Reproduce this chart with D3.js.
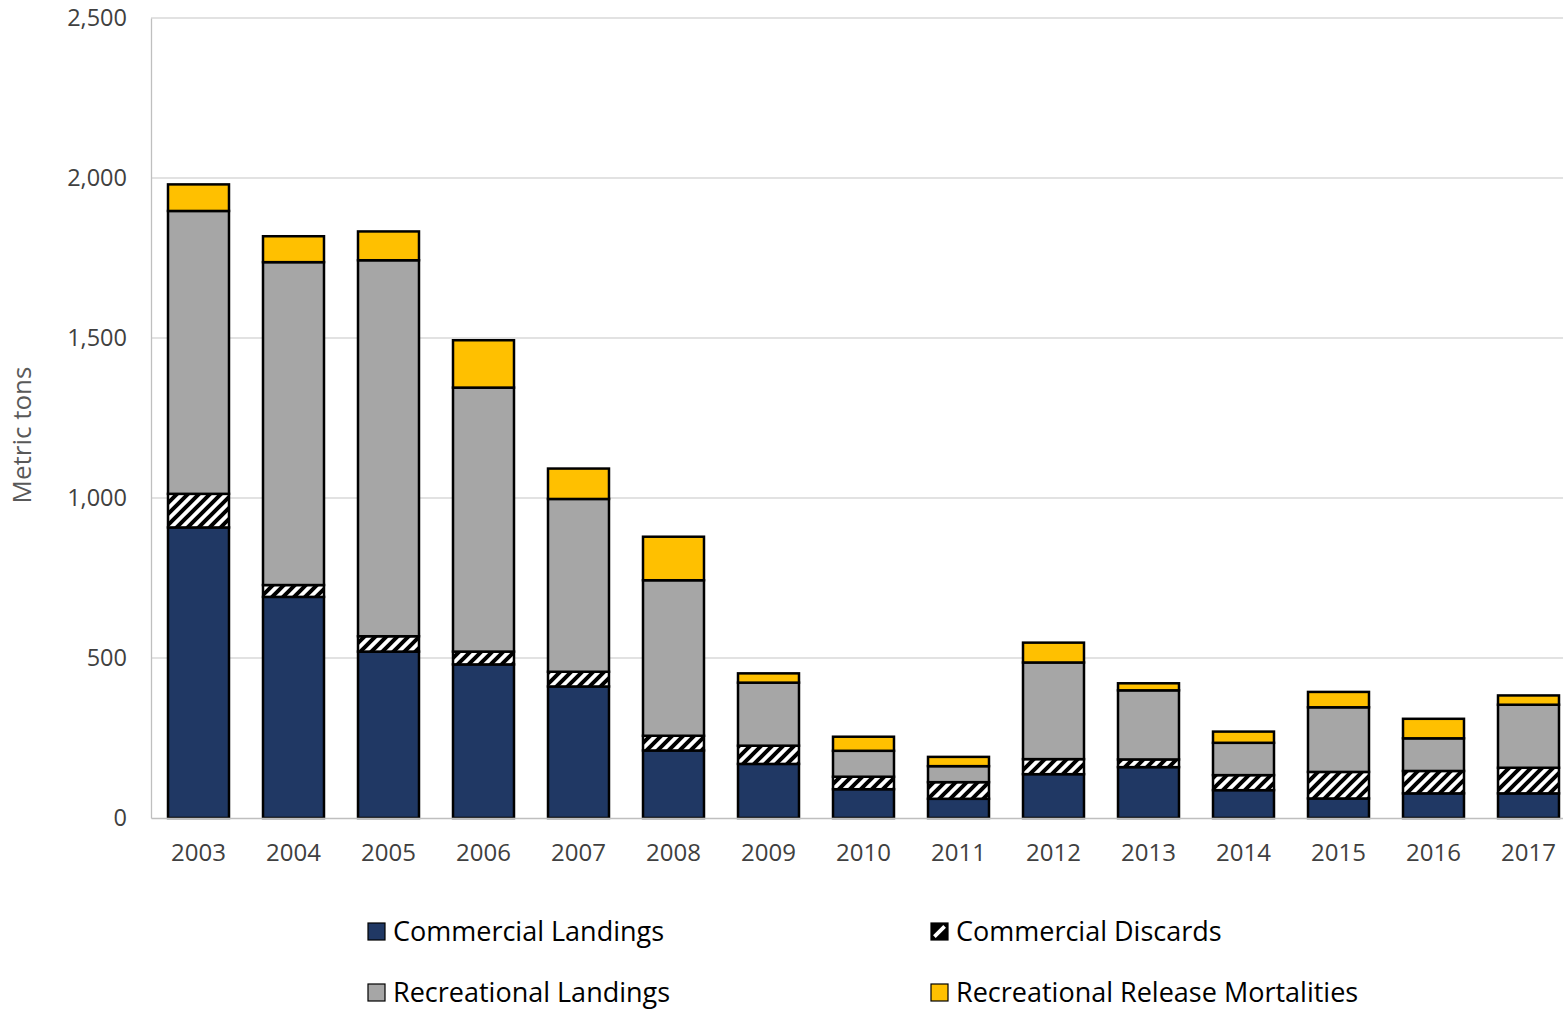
<!DOCTYPE html>
<html><head><meta charset="utf-8">
<script src="https://cdn.jsdelivr.net/npm/d3@7"></script>
<style>html,body{margin:0;padding:0;background:#fff;} svg{display:block;}</style>
</head><body>
<svg id="chart" width="1563" height="1010"></svg>
<script>
const years = ["2003","2004","2005","2006","2007","2008","2009","2010","2011","2012","2013","2014","2015","2016","2017"];
const commercialLandings = [908,691,520,480,411,211,169,90,60,137,159,87,61,77,77];
const commercialDiscards = [105,37,48,40,46,46,57,39,52,47,24,47,83,70,80];
const recreationalLandings = [884,1009,1175,825,540,486,197,81,50,302,216,101,202,102,197];
const recreationalReleaseMortalities = [83,81,90,148,95,136,29,44,29,62,22,35,48,61,29];
const yTicks = [0,500,1000,1500,2000,2500];
const seriesNames = ["Commercial Landings","Commercial Discards","Recreational Landings","Recreational Release Mortalities"];

const svg = d3.select("#chart");
const FONT = "'Open Sans', 'Liberation Sans', sans-serif";
const plot = {left:151, right:1576, top:18, bottom:818};

const defs = svg.append("defs");
const hatch = defs.append("pattern").attr("id","hatch").attr("patternUnits","userSpaceOnUse")
  .attr("width",11).attr("height",11);
hatch.append("rect").attr("width",11).attr("height",11).attr("fill","#fff");
hatch.append("path").attr("d","M-2.75,2.75 L2.75,-2.75 M0,11 L11,0 M8.25,13.75 L13.75,8.25")
  .attr("stroke","#000").attr("stroke-width",4);
const lh = defs.append("pattern").attr("id","legendHatch").attr("patternUnits","objectBoundingBox")
  .attr("width",1).attr("height",1).attr("patternContentUnits","objectBoundingBox");
lh.append("rect").attr("width",1).attr("height",1).attr("fill","#000");
lh.append("path").attr("d","M0.2,0.8 L0.8,0.2").attr("stroke","#fff").attr("stroke-width",0.22);

const colors = ["#203864","url(#hatch)","#A6A6A6","#FFC000"];
const legendFills = ["#203864","url(#legendHatch)","#A6A6A6","#FFC000"];

const x = d3.scaleBand().domain(years).range([plot.left, plot.right]).paddingInner(0.358).paddingOuter(0.179);
const y = d3.scaleLinear().domain([0,2500]).range([plot.bottom, plot.top]);

// gridlines
svg.append("g").selectAll("line").data(yTicks.filter(d=>d>0)).join("line")
  .attr("x1",plot.left).attr("x2",1563).attr("y1",d=>y(d)).attr("y2",d=>y(d))
  .attr("stroke","#D9D9D9").attr("stroke-width",1.3);

// y axis
const yAxis = svg.append("g").attr("transform",`translate(${plot.left},0)`)
  .call(d3.axisLeft(y).tickValues(yTicks).tickSize(0).tickPadding(24).tickFormat(d3.format(",")));
yAxis.select(".domain").attr("stroke","#BFBFBF").attr("stroke-width",1.3);
yAxis.selectAll("text").attr("font-family",FONT).attr("font-size",23.5).attr("fill","#404040");

// stacked data
const table = years.map((yr,i)=>({year:yr, s0:commercialLandings[i], s1:commercialDiscards[i], s2:recreationalLandings[i], s3:recreationalReleaseMortalities[i]}));
const stack = d3.stack().keys(["s0","s1","s2","s3"])(table);

svg.append("g").selectAll("g").data(stack).join("g")
  .attr("fill",(d,i)=>colors[i])
  .selectAll("rect").data(d=>d).join("rect")
  .attr("x",d=>x(d.data.year)).attr("width",x.bandwidth())
  .attr("y",d=>y(d[1])).attr("height",d=>y(d[0])-y(d[1]))
  .attr("stroke","#000").attr("stroke-width",2.5);

// x axis
const xAxis = svg.append("g").attr("transform",`translate(0,${plot.bottom})`)
  .call(d3.axisBottom(x).tickSize(0).tickPadding(26));
xAxis.select(".domain").attr("stroke","#BFBFBF").attr("stroke-width",1.3);
xAxis.selectAll("text").attr("font-family",FONT).attr("font-size",24).attr("fill","#404040");

// y title
svg.append("text").attr("transform","translate(31,435) rotate(-90)")
  .attr("text-anchor","middle").attr("font-family",FONT).attr("font-size",26).attr("fill","#595959")
  .text("Metric tons");

// legend
const legPos = [[368,923],[931,923],[368,984],[931,984]];
const leg = svg.append("g").selectAll("g").data(seriesNames).join("g")
  .attr("transform",(d,i)=>`translate(${legPos[i][0]},${legPos[i][1]})`);
leg.append("rect").attr("width",17).attr("height",17).attr("fill",(d,i)=>legendFills[i])
  .attr("stroke","#000").attr("stroke-width",1.2);
leg.append("text").attr("x",25).attr("y",18).attr("font-family",FONT).attr("font-size",27)
  .attr("fill","#000").text(d=>d);
</script>
</body></html>
